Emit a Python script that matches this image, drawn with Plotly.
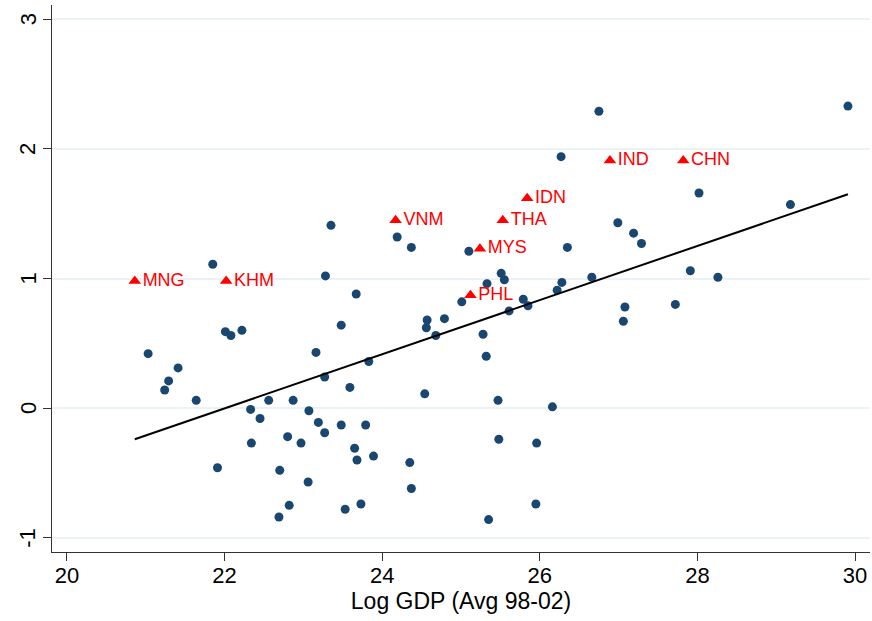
import plotly.graph_objects as go

# Other countries (blue dots)
gdp_other = [21.85, 26.27, 23.35, 24.19, 24.37, 25.10, 26.35, 23.28, 23.67, 25.51,
             25.55, 25.33, 26.28, 26.22, 25.79, 25.01, 25.85, 25.61, 26.75, 29.91,
             28.02, 29.18, 26.99, 27.19, 27.29, 27.91, 28.26, 26.66, 21.03, 21.29,
             21.24, 21.41, 21.64, 22.01, 22.08, 22.22, 21.91, 22.33, 22.45, 22.56,
             22.87, 22.34, 22.80, 22.97, 22.70, 22.82, 22.69, 24.57, 24.56, 24.79,
             24.68, 23.48, 23.16, 25.28, 25.32, 23.83, 23.27, 23.59, 24.54, 25.47,
             26.16, 23.07, 23.19, 23.27, 23.48, 23.79, 23.65, 23.68, 23.89, 25.48,
             25.96, 23.06, 24.35, 24.37, 23.53, 23.73, 25.95, 25.35, 27.08, 27.06,
             27.72]
val_other = [1.11, 1.94, 1.41, 1.32, 1.24, 1.21, 1.24, 1.02, 0.88, 1.04,
             0.99, 0.96, 0.97, 0.91, 0.84, 0.82, 0.79, 0.75, 2.29, 2.33,
             1.66, 1.57, 1.43, 1.35, 1.27, 1.06, 1.01, 1.01, 0.42, 0.21,
             0.14, 0.31, 0.06, 0.59, 0.56, 0.60, -0.46, -0.01, -0.08, 0.06,
             0.06, -0.27, -0.22, -0.27, -0.48, -0.75, -0.84, 0.68, 0.62, 0.69,
             0.56, 0.64, 0.43, 0.57, 0.40, 0.36, 0.24, 0.16, 0.11, 0.06,
             0.01, -0.02, -0.11, -0.19, -0.13, -0.13, -0.31, -0.40, -0.37, -0.24,
             -0.27, -0.57, -0.42, -0.62, -0.78, -0.74, -0.74, -0.86, 0.78, 0.67,
             0.80]

# Asian highlighted countries (red triangles)
asia_codes = ["MNG", "KHM", "VNM", "THA", "IDN", "MYS", "PHL", "IND", "CHN"]
gdp_asia = [20.86, 22.02, 24.17, 25.53, 25.84, 25.24, 25.12, 26.89, 27.82]
val_asia = [0.98, 0.98, 1.45, 1.45, 1.62, 1.23, 0.87, 1.91, 1.91]

# Linear fit endpoints
fit_x = [20.86, 29.91]
fit_y = [-0.24, 1.65]

x_ticks = [20, 22, 24, 26, 28, 30]
y_ticks = [-1, 0, 1, 2, 3]

FONT = "Liberation Sans, Arial, sans-serif"

fig = go.Figure()
fig.add_trace(go.Scatter(
    x=gdp_other, y=val_other, mode="markers",
    marker=dict(color="#1a476f", size=9, line=dict(width=0)),
    showlegend=False, hoverinfo="x+y"))
fig.add_trace(go.Scatter(
    x=gdp_asia, y=val_asia, mode="markers+text", text=asia_codes,
    textposition="middle right",
    textfont=dict(color="#ff0000", size=18, family=FONT),
    marker=dict(color="#ff0000", size=11, symbol="triangle-up", line=dict(width=0)),
    showlegend=False))
fig.add_trace(go.Scatter(
    x=fit_x, y=fit_y, mode="lines",
    line=dict(color="#000000", width=2),
    showlegend=False, hoverinfo="skip"))

# Rotated y tick labels (Stata style), placed at the tick values
for v in y_ticks:
    fig.add_annotation(
        x=0, xref="paper", y=v, yref="y", text=str(v), showarrow=False,
        textangle=-90, xanchor="center", yanchor="middle", xshift=-24,
        font=dict(size=22, family=FONT, color="#000000"))

fig.update_layout(
    width=872, height=621,
    margin=dict(l=52, r=2, t=5, b=69),
    paper_bgcolor="white", plot_bgcolor="white",
    font=dict(family=FONT, color="#000000"),
    xaxis=dict(
        range=[19.81, 30.19], tickvals=x_ticks, ticktext=[str(v) for v in x_ticks],
        showgrid=False, zeroline=False, showline=True, linecolor="#333333", linewidth=1.3,
        ticks="outside", ticklen=8, tickwidth=1.3, tickcolor="#333333",
        tickfont=dict(size=22, family=FONT, color="#000000"),
        ticklabelstandoff=-5,
        title=dict(text="Log GDP (Avg 98-02)", font=dict(size=23, family=FONT, color="#000000"),
                   standoff=2),
    ),
    yaxis=dict(
        range=[-1.11, 3.11], tickvals=y_ticks, showticklabels=False,
        showgrid=True, gridcolor="#eaf2f3", gridwidth=2, zeroline=False,
        showline=True, linecolor="#333333", linewidth=1.3,
        ticks="outside", ticklen=8, tickwidth=1.3, tickcolor="#333333",
    ),
)

fig.write_html("out.html")
